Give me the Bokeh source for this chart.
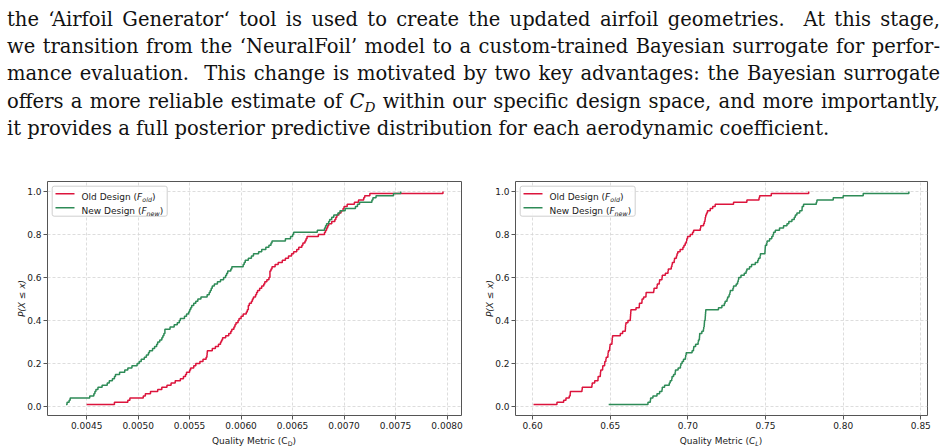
import numpy as np
from bokeh.plotting import figure
from bokeh.models import (Range1d, FixedTicker, PrintfTickFormatter, Label,
                          BoxAnnotation, PolyAnnotation, Div)
from bokeh.layouts import column, row
from bokeh.embed import file_html
from bokeh.resources import INLINE

# ---------------- data (sample values) ----------------
cd_old = [0.00450, 0.00477, 0.00490, 0.00492, 0.00505, 0.00507, 0.00512, 0.00519, 0.00523, 0.00528,
          0.00532, 0.00536, 0.00541, 0.00544, 0.00546, 0.00547, 0.00550, 0.00551, 0.00554, 0.00556,
          0.00560, 0.00563, 0.00566, 0.005668, 0.00567, 0.005672, 0.00572, 0.00575, 0.00578, 0.00580,
          0.00581, 0.00582, 0.00585, 0.00588, 0.00590, 0.00591, 0.00593, 0.00594, 0.00595, 0.00597,
          0.00598, 0.00600, 0.00602, 0.00605, 0.00606, 0.00607, 0.00607, 0.00608, 0.00610, 0.00611,
          0.00612, 0.00614, 0.00615, 0.00616, 0.00618, 0.00620, 0.00622, 0.00623, 0.00625, 0.00627,
          0.00628, 0.00628, 0.00628, 0.00629, 0.00630, 0.00633, 0.00636, 0.00640, 0.00643, 0.00646,
          0.00649, 0.00651, 0.00654, 0.00656, 0.00659, 0.00660, 0.00662, 0.00663, 0.00664, 0.00675,
          0.00681, 0.00682, 0.00683, 0.00684, 0.00685, 0.00688, 0.00691, 0.00692, 0.00693, 0.00695,
          0.00697, 0.00699, 0.00700, 0.00703, 0.00710, 0.00714, 0.00719, 0.00720, 0.00725, 0.00796]

cd_new = [0.00430, 0.00431, 0.00433, 0.00434, 0.00453, 0.00457, 0.00458, 0.00459, 0.00461, 0.00465,
          0.00470, 0.00472, 0.00475, 0.00477, 0.00478, 0.00482, 0.00487, 0.00490, 0.00494, 0.00499,
          0.00501, 0.00503, 0.00506, 0.00508, 0.00510, 0.00511, 0.00514, 0.00516, 0.00518, 0.00519,
          0.00521, 0.00523, 0.00524, 0.00525, 0.00526, 0.00526, 0.00531, 0.00535, 0.00538, 0.00540,
          0.00541, 0.00545, 0.00547, 0.00549, 0.00550, 0.00551, 0.00552, 0.00554, 0.00556, 0.00558,
          0.00561, 0.00567, 0.00569, 0.00570, 0.00571, 0.00572, 0.00574, 0.00577, 0.00580, 0.00583,
          0.00585, 0.00586, 0.00587, 0.00590, 0.00591, 0.00602, 0.00603, 0.00604, 0.00607, 0.00610,
          0.00612, 0.00617, 0.00620, 0.00624, 0.00627, 0.00629, 0.00630, 0.00643, 0.00648, 0.00650,
          0.00651, 0.00674, 0.00681, 0.00682, 0.00683, 0.00685, 0.00686, 0.00688, 0.00690, 0.00694,
          0.00696, 0.00701, 0.00711, 0.00713, 0.00715, 0.00727, 0.00728, 0.00731, 0.00748, 0.00755]

cl_old = [0.6006, 0.6157, 0.6200, 0.6215, 0.6236, 0.6242, 0.6243, 0.6318, 0.6320, 0.6382,
          0.6384, 0.6400, 0.6421, 0.6422, 0.6436, 0.6437, 0.6439, 0.6451, 0.6452, 0.6464,
          0.6465, 0.6472, 0.6474, 0.6485, 0.6486, 0.6488, 0.6496, 0.6497, 0.6499, 0.6511,
          0.6512, 0.6513, 0.6515, 0.6565, 0.6580, 0.6597, 0.6598, 0.6599, 0.6601, 0.6614,
          0.6629, 0.6630, 0.6631, 0.6632, 0.6633, 0.6666, 0.6687, 0.6688, 0.6704, 0.6705,
          0.6715, 0.6730, 0.6731, 0.6780, 0.6782, 0.6801, 0.6803, 0.6816, 0.6818, 0.6833,
          0.6835, 0.6855, 0.6872, 0.6874, 0.6893, 0.6897, 0.6900, 0.6912, 0.6914, 0.6926,
          0.6930, 0.6935, 0.6950, 0.6968, 0.6975, 0.6983, 0.6990, 0.6993, 0.6998, 0.7015,
          0.7030, 0.7037, 0.7080, 0.7083, 0.7101, 0.7106, 0.7110, 0.7112, 0.7115, 0.7120,
          0.7126, 0.7144, 0.7160, 0.7176, 0.7294, 0.7380, 0.7458, 0.7462, 0.7537, 0.7778]

cl_new = [0.6490, 0.6743, 0.6758, 0.6760, 0.6775, 0.6801, 0.6818, 0.6833, 0.6835, 0.6850,
          0.6880, 0.6886, 0.6896, 0.6898, 0.6908, 0.6918, 0.6920, 0.6937, 0.6952, 0.6955,
          0.6963, 0.6972, 0.6984, 0.6986, 0.6989, 0.7027, 0.7036, 0.7038, 0.7050, 0.7066,
          0.7068, 0.7074, 0.7075, 0.7076, 0.7090, 0.7100, 0.7102, 0.7105, 0.7106, 0.7107,
          0.7111, 0.7112, 0.7113, 0.7114, 0.7115, 0.7197, 0.7219, 0.7235, 0.7240, 0.7252,
          0.7256, 0.7265, 0.7270, 0.7273, 0.7290, 0.7294, 0.7311, 0.7320, 0.7324, 0.7327,
          0.7342, 0.7363, 0.7375, 0.7380, 0.7397, 0.7410, 0.7434, 0.7450, 0.7455, 0.7465,
          0.7467, 0.7496, 0.7497, 0.7498, 0.7499, 0.7508, 0.7510, 0.7526, 0.7540, 0.7548,
          0.7552, 0.7563, 0.7590, 0.7616, 0.7638, 0.7650, 0.7670, 0.7685, 0.7692, 0.7702,
          0.7720, 0.7735, 0.7736, 0.7745, 0.7827, 0.7831, 0.7936, 0.8000, 0.8129, 0.8423]

cd_ticks = [0.0045, 0.0050, 0.0055, 0.0060, 0.0065, 0.0070, 0.0075, 0.0080]
cl_ticks = [0.60, 0.65, 0.70, 0.75, 0.80, 0.85]
p_ticks = [0.0, 0.2, 0.4, 0.6, 0.8, 1.0]
series_names = ["Old Design", "New Design"]
series_subs = ["old", "new"]
y_label = "P(X \u2264 x)"
x_label_main = "Quality Metric ("

OLD_COLOR = "#dc143c"
NEW_COLOR = "#2e8b57"
TXT = "#1a1a1a"
FONT = "DejaVu Sans"

# DejaVu Sans advance widths (em) for laying out rich legend text pieces
DV = {' ': 0.318, '(': 0.390, ')': 0.390, 'C': 0.698, 'D': 0.770, 'F': 0.575, 'L': 0.557,
      'M': 0.863, 'N': 0.748, 'O': 0.787, 'Q': 0.787, 'a': 0.613, 'c': 0.550, 'd': 0.635,
      'e': 0.615, 'g': 0.635, 'i': 0.278, 'l': 0.278, 'n': 0.634, 'o': 0.612, 'r': 0.411,
      's': 0.521, 't': 0.392, 'u': 0.634, 'w': 0.818, 'y': 0.592}


def tw(s, size):
    return sum(DV.get(c, 0.6) for c in s) * size


def rich(p, x0, y, pieces):
    x = x0
    for t, s, ital, dy in pieces:
        p.add_layout(Label(x=x, y=y + dy, x_units="screen", y_units="screen", text=t,
                           text_font=FONT, text_font_size=f"{s}px",
                           text_font_style="italic" if ital else "normal",
                           text_color=TXT, text_baseline="alphabetic", text_align="left"))
        x += tw(t, s)


def ecdf(samples):
    xs = np.sort(np.asarray(samples, dtype=float))
    ys = np.arange(1, len(xs) + 1) / len(xs)
    return xs, ys


FS = 9
SUB = 6.3
H = 262
MBT, MBB = 11, 17
FH = H - MBT - MBB
LABEL_H = 447 - 170 - H


def panel(old, new, xr, ticks, fmt, sym, sub, width, mbl, mbr):
    p = figure(width=width, height=H, x_range=Range1d(*xr), y_range=Range1d(-0.041, 1.046),
               output_backend="svg", toolbar_location=None,
               min_border_left=mbl, min_border_right=mbr, min_border_top=MBT, min_border_bottom=MBB)
    fw = width - mbl - mbr
    p.background_fill_color = "white"
    p.border_fill_color = "white"
    p.outline_line_color = "#555555"
    p.outline_line_width = 1

    p.xaxis.ticker = FixedTicker(ticks=ticks)
    p.xaxis.formatter = PrintfTickFormatter(format=fmt)
    p.yaxis.ticker = FixedTicker(ticks=p_ticks)
    p.yaxis.formatter = PrintfTickFormatter(format="%.1f")
    for ax in (p.xaxis[0], p.yaxis[0]):
        ax.axis_line_color = None
        ax.minor_tick_line_color = None
        ax.major_tick_in = 0
        ax.major_tick_out = 4
        ax.major_tick_line_color = "#555555"
        ax.major_label_text_font = FONT
        ax.major_label_text_font_size = f"{FS}px"
        ax.major_label_text_color = TXT
        ax.major_label_standoff = 2
    p.yaxis.axis_label = y_label
    p.yaxis.axis_label_text_font = FONT
    p.yaxis.axis_label_text_font_size = f"{FS}px"
    p.yaxis.axis_label_text_font_style = "italic"
    p.yaxis.axis_label_text_color = TXT
    p.yaxis.axis_label_standoff = -3

    for g in (p.xgrid[0], p.ygrid[0]):
        g.grid_line_color = "#d4d4d4"
        g.grid_line_dash = "3 2"
        g.grid_line_width = 0.8

    for data, col in ((old, OLD_COLOR), (new, NEW_COLOR)):
        xs, ys = ecdf(data)
        p.step(xs, ys, mode="after", line_color=col, line_width=1.5)

    # legend (matplotlib style, with subscripts)
    p.add_layout(BoxAnnotation(left=4.7, right=119.7, top=FH - 4.7, bottom=FH - 34.7,
                               left_units="screen", right_units="screen",
                               top_units="screen", bottom_units="screen",
                               fill_color="white", fill_alpha=0.85,
                               line_color="#cfcfcf", line_alpha=1.0, line_width=1,
                               border_radius=2))
    for i, (name, subtxt, col) in enumerate(zip(series_names, series_subs, (OLD_COLOR, NEW_COLOR))):
        yl = FH - 12.3 - 14 * i
        p.add_layout(PolyAnnotation(xs=[8, 27], ys=[yl, yl], xs_units="screen", ys_units="screen",
                                    line_color=col, line_alpha=1.0, line_width=1.5,
                                    fill_alpha=0))
        rich(p, 34, yl - 3.3, [(name + " (", FS, False, 0), ("F", FS, True, 0),
                               (subtxt, SUB, True, -2.2), (")", FS, False, 0)])

    # x-axis label (with subscript) as a text block under the frame
    sub_html = (f"<span style=\"font-size:{SUB}px; vertical-align:-2px; line-height:0;\">{sub}</span>")
    lab = Div(text=(f"<div style=\"margin-left:{mbl}px; margin-top:-4px; width:{fw}px; "
                    f"text-align:center; font-family:'DejaVu Sans'; font-size:{FS}px; "
                    f"line-height:11px; color:{TXT}; white-space:nowrap;\">"
                    f"{x_label_main}{sym}{sub_html})</div>"),
              width=width, height=LABEL_H, margin=0)
    return column(p, lab, spacing=0)


c1 = panel(cd_old, cd_new, (0.00412, 0.00814), cd_ticks, "%.4f", "C", "D", 470, 47, 9)
c2 = panel(cl_old, cl_new, (0.5890, 0.8543), cl_ticks, "%.2f", "<i>C</i>", "<i>L</i>", 477, 45, 20)

line_style = "width:933px; text-align:justify; text-align-last:justify; white-space:nowrap;"
cd_html = ("<i>C</i><sub style=\"font-size:70%; font-style:italic; vertical-align:-4px; "
           "line-height:0;\">D</sub>")
lines = [
    "the \u2018Airfoil Generator\u2018 tool is used to create the updated airfoil geometries.&nbsp; At this stage,",
    "we transition from the \u2018NeuralFoil\u2019 model to a custom-trained Bayesian surrogate for perfor-",
    "mance evaluation.&nbsp; This change is motivated by two key advantages: the Bayesian surrogate",
    "offers a more reliable estimate of " + cd_html + " within our specific design space, and more importantly,",
]
last_line = "it provides a full posterior predictive distribution for each aerodynamic coefficient."

html = ("<div style=\"font-family:'DejaVu Serif'; font-size:19.5px; line-height:27.2px; color:#111; "
        "padding-top:6px; padding-left:7px; margin:0;\">"
        + "".join(f"<div style=\"{line_style}\">{ln}</div>" for ln in lines)
        + f"<div style=\"width:933px; text-align:left; white-space:nowrap;\">{last_line}</div>"
        + "</div>")
div = Div(text=html, width=947, height=170, margin=0)

layout = column(div, row(c1, c2, spacing=0), spacing=0)
open("out.html", "w").write(file_html(layout, INLINE))
